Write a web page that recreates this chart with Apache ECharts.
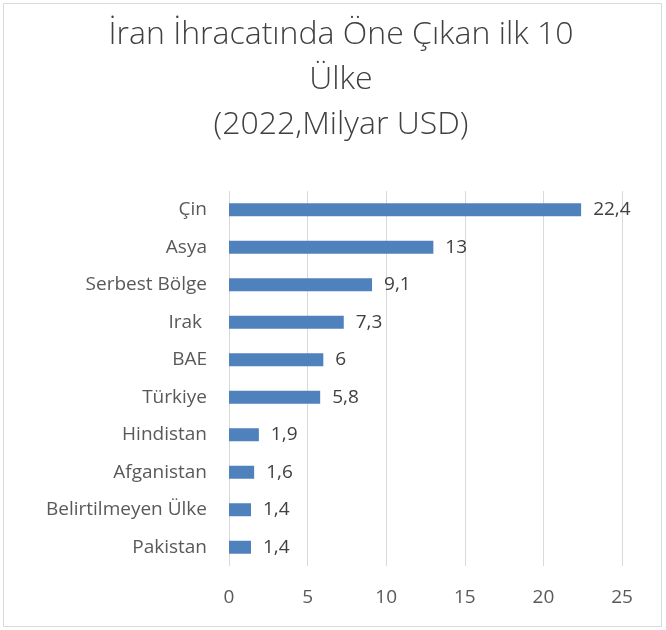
<!DOCTYPE html>
<html>
<head>
<meta charset="utf-8">
<script src="https://cdn.jsdelivr.net/npm/echarts@6/dist/echarts.min.js"></script>
<style>
  html, body { margin: 0; padding: 0; background: #fff; }
  #chart { width: 666px; height: 630px; }
</style>
</head>
<body>
<div id="chart"></div>
<script>
// ülkeler, alttan üste (yAxis kategori sırası)
const countries = ['Pakistan', 'Belirtilmeyen Ülke', 'Afganistan', 'Hindistan', 'Türkiye', 'BAE', 'Irak ', 'Serbest Bölge', 'Asya', 'Çin']
const exportValues = [1.4, 1.4, 1.6, 1.9, 5.8, 6, 7.3, 9.1, 13, 22.4]
const xTicks = [0, 5, 10, 15, 20, 25]

const chart = echarts.init(document.getElementById('chart'))
const font = "'Open Sans', 'Noto Sans', sans-serif"

chart.setOption({
  animation: false,
  backgroundColor: '#fff',
  graphic: [{
    type: 'rect',
    shape: { x: 3.5, y: 3.5, width: 658, height: 623 },
    style: { fill: 'none', stroke: '#d9d9d9', lineWidth: 1 }
  }],
  title: {
    text: 'İran İhracatında Öne Çıkan ilk 10\nÜlke\n(2022,Milyar USD)',
    left: 336,
    textAlign: 'center',
    top: 7,
    textStyle: {
      fontFamily: font,
      fontWeight: 300,
      fontSize: 32,
      lineHeight: 45,
      color: '#404040'
    }
  },
  grid: { left: 229, right: 44, top: 191, bottom: 64, containLabel: false },
  xAxis: {
    type: 'value',
    min: xTicks[0],
    max: xTicks[xTicks.length - 1],
    interval: 5,
    axisLine: { show: false },
    axisTick: { show: false },
    splitLine: { lineStyle: { color: '#d9d9d9', width: 1 } },
    axisLabel: { color: '#595959', fontSize: 19, fontFamily: font, margin: 22 }
  },
  yAxis: {
    type: 'category',
    data: countries,
    axisLine: { show: false },
    axisTick: { show: false },
    axisLabel: { color: '#595959', fontSize: 19, fontFamily: font, margin: 22 }
  },
  series: [{
    type: 'bar',
    data: exportValues,
    barWidth: 13,
    itemStyle: { color: '#4f81bd' },
    label: {
      show: true,
      position: 'right',
      distance: 12,
      color: '#404040',
      fontSize: 19,
      fontFamily: font,
      formatter: p => String(p.value).replace('.', ',')
    }
  }]
})
</script>
</body>
</html>
